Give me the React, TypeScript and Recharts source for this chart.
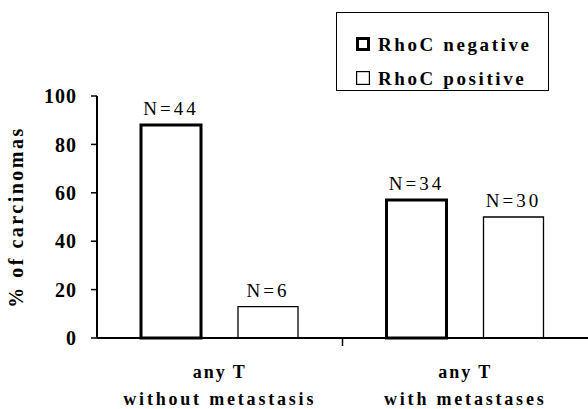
import React from "react";
import { BarChart, Bar, XAxis, YAxis, LabelList, Label } from "recharts";

const groupTop = ["any T", "any T"];
const groupBottom = ["without metastasis", "with metastases"];
const negativeValues = [88, 57];
const positiveValues = [13, 50];
const negativeN = ["N=44", "N=34"];
const positiveN = ["N=6", "N=30"];
const yTicks = [0, 20, 40, 60, 80, 100];
const legendLabels = ["RhoC negative", "RhoC positive"];

const data = groupBottom.map((name, i) => ({
  name,
  top: groupTop[i],
  negative: negativeValues[i],
  positive: positiveValues[i],
  negN: negativeN[i],
  posN: positiveN[i],
}));

const FONT = "'Liberation Serif', 'Times New Roman', serif";

function CategoryTick(props: any) {
  const { x, y, payload, index, width, visibleTicksCount } = props;
  const half = payload?.offset ?? width / (visibleTicksCount || 2) / 2;
  const row = data[index];
  return (
    <g>
      {index > 0 && (
        <line x1={x - half} x2={x - half} y1={y - 9} y2={y} stroke="#000" strokeWidth={1.5} />
      )}
      <text
        x={x}
        y={y + 32}
        textAnchor="middle"
        fontFamily={FONT}
        fontWeight="bold"
        fontSize={18}
        letterSpacing={2}
        fill="#000"
      >
        {row?.top}
      </text>
      <text
        x={x}
        y={y + 59}
        textAnchor="middle"
        fontFamily={FONT}
        fontWeight="bold"
        fontSize={18}
        letterSpacing={2.8}
        fill="#000"
      >
        {payload.value}
      </text>
    </g>
  );
}

function NLabel(props: any) {
  const { x, y, width, value } = props;
  return (
    <text
      x={x + width / 2}
      y={y - 10}
      textAnchor="middle"
      fontFamily={FONT}
      fontSize={19}
      letterSpacing={3}
      fill="#000"
    >
      {value}
    </text>
  );
}

function LegendBox() {
  const widths = [3, 1.2];
  return (
    <div
      style={{
        position: "absolute",
        left: 336,
        top: 12,
        width: 213,
        height: 79,
        border: "1.5px solid #000",
        boxSizing: "border-box",
        background: "#fff",
        paddingTop: 14,
        paddingLeft: 19,
      }}
    >
      {legendLabels.map((label, i) => (
        <div key={label} style={{ display: "flex", alignItems: "center", height: 34 }}>
          <svg width={14} height={14} style={{ marginRight: 8 }}>
            <rect
              x={widths[i] / 2}
              y={widths[i] / 2}
              width={14 - widths[i]}
              height={14 - widths[i]}
              fill="#fff"
              stroke="#000"
              strokeWidth={widths[i]}
            />
          </svg>
          <span
            style={{
              fontFamily: FONT,
              fontWeight: "bold",
              fontSize: 19,
              letterSpacing: 2.6,
              color: "#000",
              lineHeight: "19px",
              whiteSpace: "nowrap",
            }}
          >
            {label}
          </span>
        </div>
      ))}
    </div>
  );
}

export default function App() {
  return (
    <div style={{ position: "absolute", left: 0, top: 0, width: 588, height: 409, background: "#fff" }}>
      <BarChart
        width={588}
        height={409}
        data={data}
        margin={{ top: 96, right: 0, bottom: 0, left: 0 }}
        barSize={60}
        barGap={37}
      >
        <XAxis
          dataKey="name"
          height={71}
          axisLine={{ stroke: "#000", strokeWidth: 2 }}
          tickLine={false}
          tick={<CategoryTick />}
          interval={0}
        />
        <YAxis
          width={97}
          domain={[0, 100]}
          ticks={yTicks}
          interval={0}
          axisLine={{ stroke: "#000", strokeWidth: 2 }}
          tickLine={{ stroke: "#000", strokeWidth: 1.5 }}
          tickSize={6}
          tickMargin={14}
          tick={{ fontFamily: FONT, fontWeight: "bold", fontSize: 20, fill: "#000", letterSpacing: 1 }}
        >
          <Label
            value="% of carcinomas"
            angle={-90}
            position="insideLeft"
            offset={16}
            style={{
              fontFamily: FONT,
              fontWeight: "bold",
              fontSize: 20,
              fill: "#000",
              letterSpacing: 2.5,
              textAnchor: "middle",
            }}
          />
        </YAxis>
        <Bar dataKey="negative" fill="#fff" stroke="#000" strokeWidth={3} isAnimationActive={false}>
          <LabelList dataKey="negN" content={<NLabel />} />
        </Bar>
        <Bar dataKey="positive" fill="#fff" stroke="#000" strokeWidth={1.3} isAnimationActive={false}>
          <LabelList dataKey="posN" content={<NLabel />} />
        </Bar>
      </BarChart>
      <LegendBox />
    </div>
  );
}
